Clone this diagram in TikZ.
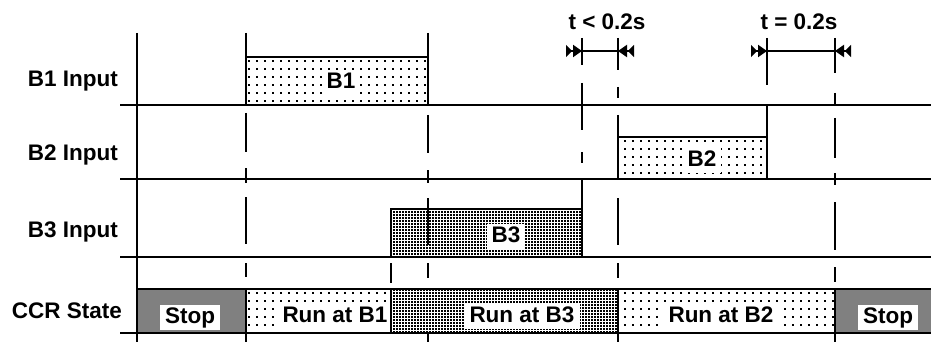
\documentclass[tikz,border=0pt]{standalone}
\usepackage{fontspec}
\setmainfont{Liberation Sans}
\usetikzlibrary{patterns,arrows.meta}
\pgfdeclarepatternformonly{sparsedots}{\pgfqpoint{-1pt}{-1pt}}{\pgfqpoint{2pt}{2pt}}{\pgfqpoint{8pt}{8pt}}{\pgfpathrectangle{\pgfqpoint{0pt}{0pt}}{\pgfqpoint{1.7pt}{1.7pt}}\pgfusepath{fill}}
\pgfdeclarepatternformonly{densedots}{\pgfqpoint{-1pt}{-1pt}}{\pgfqpoint{2.5pt}{2.5pt}}{\pgfqpoint{3pt}{3pt}}{\pgfpathrectangle{\pgfqpoint{0pt}{0pt}}{\pgfqpoint{2.1pt}{2.1pt}}\pgfusepath{fill}}
\tikzset{txt/.style={font=\bfseries\fontsize{22.5}{24}\selectfont, inner sep=0pt},
  tag/.style={txt, fill=white, inner xsep=5pt, inner ysep=2pt, text height=16pt, text depth=5pt},
  axis/.style={line width=2.6pt},
  guide/.style={line width=1.1pt},
  span/.style={line width=2pt, {Triangle[reversed,length=6pt,width=12pt]}-{Triangle[length=9pt,width=12pt]}}}

\begin{document}
\begin{tikzpicture}[x=1pt, y=-1pt]
	\useasboundingbox (0,0) rectangle (931,342);

	\path[pattern=sparsedots] (246,57) rectangle (428,105);
	\path[pattern=sparsedots] (618,137) rectangle (767,178);
	\path[pattern=densedots] (391,209) rectangle (582,257);
	\path[fill=gray] (137,289) rectangle (246,333);
	\path[pattern=sparsedots] (246,289) rectangle (391,333);
	\path[pattern=densedots] (391,289) rectangle (618,333);
	\path[pattern=sparsedots] (618,289) rectangle (835,333);
	\path[fill=gray] (835,289) rectangle (931,333);

	\node[txt] (lblB1) [anchor=base east] at (118,87) {B1 Input};
	\node[txt] (lblB2) [anchor=base east] at (118,160) {B2 Input};
	\node[txt] (lblB3) [anchor=base east] at (118,237) {B3 Input};
	\node[txt] (lblCCR) [anchor=base east] at (122,318) {CCR State};

	\node[tag] (tagB1) [anchor=base] at (341,89) {B1};
	\node[tag] (tagB2) [anchor=base] at (702,166) {B2};
	\node[tag] (tagB3) [anchor=base] at (506,242) {B3};
	\node[tag] (stopA) [anchor=base] at (190,323) {Stop};
	\node[tag] (runB1) [anchor=base] at (335,322) {Run at B1};
	\node[tag] (runB3) [anchor=base] at (522,322) {Run at B3};
	\node[tag] (runB2) [anchor=base] at (721,322) {Run at B2};
	\node[tag] (stopB) [anchor=base] at (888,323) {Stop};

	\node[txt] (tShort) [anchor=base] at (607,30) {t < 0.2s};
	\node[txt] (tLimit) [anchor=base] at (799,30) {t = 0.2s};

	\draw[guide] (246,57) -- (428,57);
	\draw[guide] (618,137) -- (767,137);
	\draw[guide] (391,257) -- (391,209) -- (582,209);
	\draw[guide] (137,289) -- (931,289);

	\foreach \x/\ya/\yb in {246/33/105, 246/113/152, 246/168/183, 246/197/244, 246/263/277, 246/289/342,
		428/33/105, 428/115/153, 428/170/183, 428/198/245, 428/263/278, 428/333/342,
		582/38/65, 582/83/130, 582/152/163, 582/179/257,
		618/38/70, 618/87/98, 618/115/178, 618/198/245, 618/263/278, 618/289/342,
		767/38/85, 767/105/178,
		835/38/73, 835/93/105, 835/118/158, 835/173/185, 835/202/250, 835/267/282, 835/289/342,
		391/263/283, 391/289/333}
		\draw[guide] (\x,\ya) -- (\x,\yb);

	\draw[span] (566,51) -- (582,51);
	\draw[guide] (582,51) -- (618,51);
	\draw[span] (634,51) -- (618,51);
	\draw[span] (751,51) -- (767,51);
	\draw[guide] (767,51) -- (835,51);
	\draw[span] (851,51) -- (835,51);

	\draw[axis] (137,33) -- (137,342);
	\foreach \y in {105,179,257,333}
		\draw[axis] (120,\y) -- (931,\y);
\end{tikzpicture}
\end{document}
